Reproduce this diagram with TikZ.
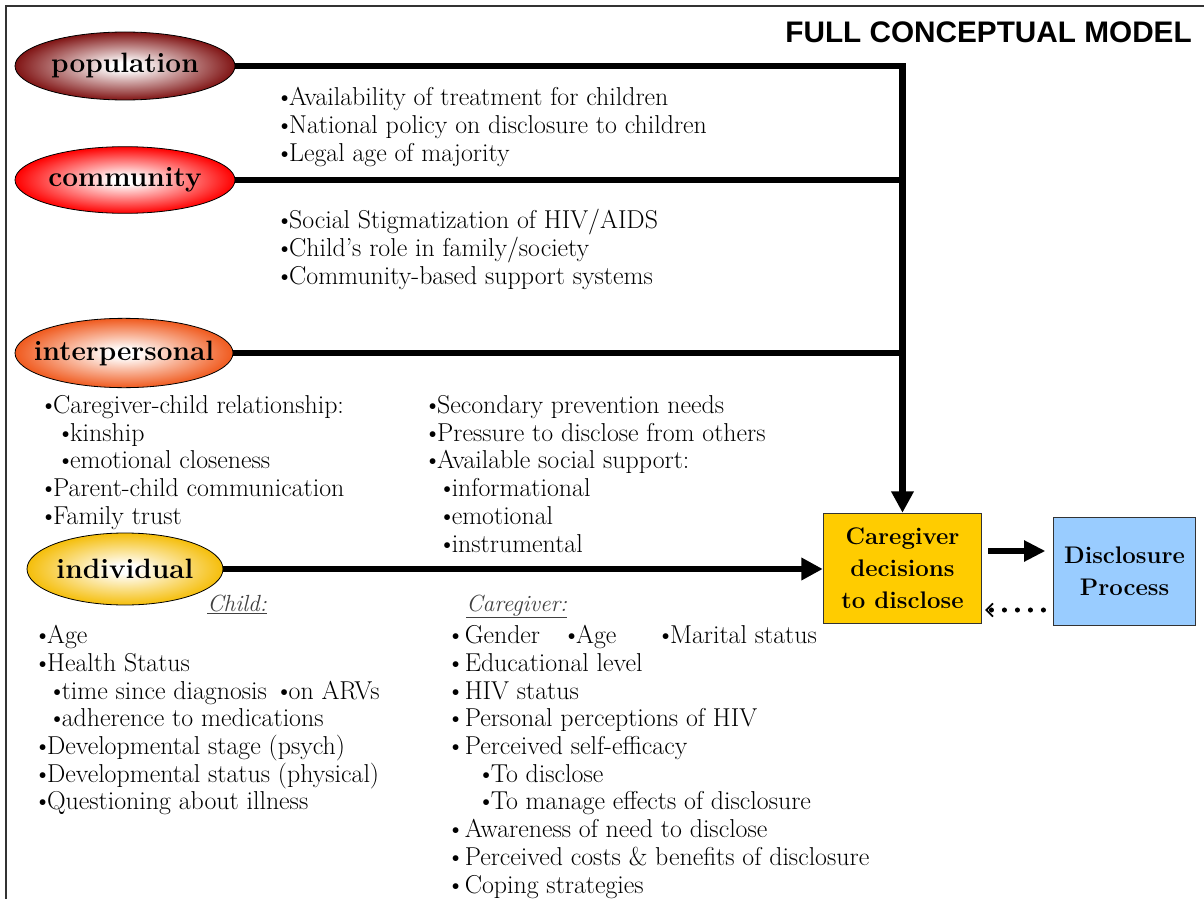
\documentclass[tikz,border=0pt]{standalone}
\usepackage{fontspec}
\newfontfamily\titlefont{Liberation Sans}
\usetikzlibrary{shapes.geometric,arrows.meta,calc}

\definecolor{popred}{RGB}{128,20,20}
\definecolor{comred}{RGB}{255,0,0}
\definecolor{intorange}{RGB}{240,90,30}
\definecolor{indgold}{RGB}{245,190,10}
\definecolor{decyellow}{RGB}{255,204,0}
\definecolor{procblue}{RGB}{153,204,255}
\colorlet{lvlcol}{red}
\pgfdeclareradialshading[lvlcol]{lvlshade}{\pgfpoint{0bp}{0bp}}{color(0bp)=(white); color(3bp)=(white); color(25bp)=(lvlcol); color(50bp)=(lvlcol)}
\newcommand{\bul}{\textbullet\kern-3.6pt}

\begin{document}
\begin{tikzpicture}[x=0.75pt,y=0.75pt,yscale=-1,xscale=1,
  tiercol/.code={\colorlet{lvlcol}{#1}},
  tier/.style={ellipse, draw=black, line width=0.6pt, inner sep=0pt, shading=lvlshade, tiercol=#1},
  tiertext/.style={inner sep=0pt, font=\bfseries\fontsize{21}{24}\selectfont},
  link/.style={line width=5pt},
  bigtip/.style={-{Triangle[width=16pt,length=16pt]}},
  items/.style={anchor=north west, inner sep=0pt, align=left, font=\fontsize{19.4}{20.8}\selectfont},
  head/.style={anchor=base west, inner sep=0pt, text=black!75, font=\itshape\fontsize{17.5}{20.8}\selectfont},
  box/.style={draw=black!80, line width=0.6pt, inner sep=0pt, align=center, font=\bfseries\fontsize{18}{24}\selectfont}]
\useasboundingbox (0,0) rectangle (1204,899);

%Frame
\draw [line width=1.5pt, color=black!80] (6,899) -- (6,6) -- (1204,6) ;

%Shape: Ellipse
\draw (125,66) node [tier=popred, minimum width=165pt, minimum height=51pt] (pop) {} ;
%Shape: Ellipse
\draw (125,180) node [tier=comred, minimum width=165pt, minimum height=50pt] (com) {} ;
%Shape: Ellipse
\draw (124,353) node [tier=intorange, minimum width=163.5pt, minimum height=52pt] (int) {} ;
%Shape: Ellipse
\draw (125,569) node [tier=indgold, minimum width=147pt, minimum height=54pt] (ind) {} ;

%Shape: Rectangle
\draw (902.5,568.5) node [box, fill=decyellow, minimum width=119pt, minimum height=83pt] (dec) {Caregiver\\decisions\\to disclose} ;
%Shape: Rectangle
\draw (1124.5,571) node [box, fill=procblue, minimum width=106pt, minimum height=81pt] (proc) {Disclosure\\Process} ;

%Straight Lines
\draw [link, bigtip] (pop.east) -| (dec.north) ;
%Straight Lines
\draw [link] (com.east) -- (com.east -| dec.north) ;
%Straight Lines
\draw [link] (int.east) -- (int.east -| dec.north) ;
%Straight Lines
\draw [link, bigtip] (ind.east) -- (ind.east -| dec.west) ;
%Straight Lines
\draw [link, -{Triangle[width=15pt,length=16pt]}] ($(dec.east)+(6,-17.5)$) -- ($(proc.west)+(-8,-20)$) ;
%Dotted Lines
\draw [line width=3.8pt, line cap=round, dash pattern=on 0pt off 9.75pt, -{Straight Barb[line width=1.2pt,length=5pt,width=10pt]}] ($(proc.west)+(-10,39)$) -- ($(dec.east)+(3,41.5)$) ;

% Text Node
\draw (125,66) node [tiertext] (poptext) {population};
% Text Node
\draw (125,180) node [tiertext] (comtext) {community};
% Text Node
\draw (124,353) node [tiertext] (inttext) {interpersonal};
% Text Node
\draw (125,569) node [tiertext] (indtext) {individual};
% Text Node
\draw (1192,43) node [anchor=base east, inner sep=0pt, font=\titlefont\bfseries\fontsize{22.3}{26}\selectfont] (title) {FULL CONCEPTUAL MODEL};
% Text Node
\draw (275,87) node [items] (popitems) {\bul Availability of treatment for children\\\bul National policy on disclosure to children\\\bul Legal age of majority};
% Text Node
\draw (275,209) node [items] (comitems) {\bul Social Stigmatization of HIV/AIDS\\\bul Child’s role in family/society\\\bul Community-based support systems};
% Text Node
\draw (39,395) node [items] (intitems) {\bul Caregiver-child relationship:\\\hspace*{12.75pt}\bul kinship\\\hspace*{12.75pt}\bul emotional closeness\\\bul Parent-child communication\\\bul Family trust};
% Text Node
\draw (423,395) node [items] (intitems2) {\bul Secondary prevention needs\\\bul Pressure to disclose from others\\\bul Available social support:\\\hspace*{11pt}\bul informational\\\hspace*{11pt}\bul emotional\\\hspace*{11pt}\bul instrumental};
% Text Node
\draw (207,611) node [head] (childhead) {\underline{Child:}};
% Text Node
\draw (466,611) node [head] (carehead) {\underline{Caregiver:}};
% Text Node
\draw (33,625) node [items] (childitems) {\bul Age\\\bul Health Status\\\hspace*{11pt}\bul time since diagnosis \bul on ARVs\\\hspace*{11pt}\bul adherence to medications\\\bul Developmental stage (psych)\\\bul Developmental status (physical)\\\bul Questioning about illness};
% Text Node
\draw (446,625) node [items] (careitems) {\makebox[87pt][l]{\bul\hspace{3.5pt}Gender}\makebox[70.5pt][l]{\bul Age}\bul Marital status\\\bul\hspace{3.5pt}Educational level\\\bul\hspace{3.5pt}HIV status\\\bul\hspace{3.5pt}Personal perceptions of HIV\\\bul\hspace{3.5pt}Perceived self-efficacy\\\hspace*{23pt}\bul To disclose\\\hspace*{23pt}\bul To manage effects of disclosure\\\bul\hspace{3.5pt}Awareness of need to disclose\\\bul\hspace{3.5pt}Perceived costs \& benefits of disclosure\\\bul\hspace{3.5pt}Coping strategies};

\end{tikzpicture}
\end{document}
